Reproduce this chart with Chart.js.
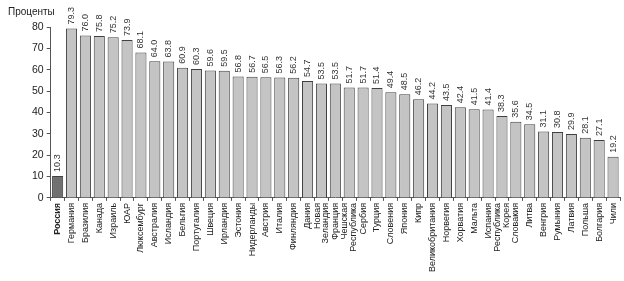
<!DOCTYPE html>
<html>
<head>
<meta charset="utf-8">
<script src="https://cdn.jsdelivr.net/npm/chart.js@4/dist/chart.umd.min.js"></script>
<style>
  html, body { margin: 0; padding: 0; background: #fff; }
  #wrap { width: 624px; height: 281px; }
</style>
</head>
<body>
<div id="wrap"><canvas id="chart"></canvas></div>
<script>
const countries = [
    'Россия', 'Германия', 'Бразилия', 'Канада', 'Израиль', 'ЮАР', 'Люксембург',
    'Австралия', 'Исландия', 'Бельгия', 'Португалия', 'Швеция', 'Ирландия',
    'Эстония', 'Нидерланды', 'Австрия', 'Италия', 'Финляндия', 'Дания',
    ['Новая', 'Зеландия'], 'Франция', ['Чешская', 'Республика'], 'Сербия',
    'Турция', 'Словения', 'Япония', 'Кипр', 'Великобритания', 'Норвегия',
    'Хорватия', 'Мальта', 'Испания', ['Республика', 'Корея'], 'Словакия',
    'Литва', 'Венгрия', 'Румыния', 'Латвия', 'Польша', 'Болгария', 'Чили'
];
const percents = [
    10.3, 79.3, 76.0, 75.8, 75.2, 73.9, 68.1, 64.0, 63.8, 60.9, 60.3, 59.6, 59.5,
    56.8, 56.7, 56.5, 56.3, 56.2, 54.7, 53.5, 53.5, 51.7, 51.7, 51.4, 49.4, 48.5,
    46.2, 44.2, 43.5, 42.4, 41.5, 41.4, 38.3, 35.6, 34.5, 31.1, 30.8, 29.9, 28.1,
    27.1, 19.2
];
const yTicks = [0, 10, 20, 30, 40, 50, 60, 70, 80];
const axisTitle = 'Проценты';

const FONT = 'Arial, "Liberation Sans", sans-serif';
const LABEL_LINE = 8.5;

// Chart.js puts the first line of a rotated multi-line label on the tick;
// shift those labels so both lines sit around the bar centre instead
const centerLabelsPlugin = {
    id: 'centerLabels',
    beforeDraw(chart) {
        const scale = chart.scales.x;
        const items = scale.getLabelItems(chart.chartArea);
        items.forEach(item => {
            if (Array.isArray(item.label) && !item._shifted) {
                item.options.translation[0] -= (item.label.length - 1) * LABEL_LINE / 2;
                item._shifted = true;
            }
        });
    }
};

// Value labels above bars, plus the axis caption at the top left
const labelsPlugin = {
    id: 'valueLabels',
    afterDatasetsDraw(chart) {
        const ctx = chart.ctx;
        const meta = chart.getDatasetMeta(0);
        ctx.save();
        ctx.fillStyle = '#333';
        ctx.font = '9px ' + FONT;
        ctx.textAlign = 'left';
        ctx.textBaseline = 'middle';
        meta.data.forEach((bar, i) => {
            ctx.save();
            ctx.translate(bar.x, bar.y - 4);
            ctx.rotate(-Math.PI / 2);
            ctx.fillText(percents[i].toFixed(1), 0, 0);
            ctx.restore();
        });
        ctx.font = '10px ' + FONT;
        ctx.fillStyle = '#222';
        ctx.fillText(axisTitle, 8, 12);
        ctx.restore();
    }
};

new Chart(document.getElementById('chart'), {
    type: 'bar',
    data: {
        labels: countries,
        datasets: [
            {
                data: percents,
                backgroundColor: percents.map((v, i) => i === 0 ? '#707070' : '#c4c4c4'),
                borderColor: '#404040',
                borderWidth: 1,
                borderSkipped: 'bottom',
                barPercentage: 0.8,
                categoryPercentage: 1,
            },
        ],
    },
    options: {
        responsive: true,
        maintainAspectRatio: false,
        animation: false,
        layout: { padding: { left: 29, right: 4, top: 27, bottom: 7 } },
        plugins: {
            legend: { display: false },
            tooltip: { enabled: false },
        },
        scales: {
            x: {
                offset: true,
                grid: {
                    display: true,
                    drawOnChartArea: false,
                    offset: true,
                    tickLength: 3,
                    color: '#555',
                },
                border: { color: '#555' },
                ticks: {
                    autoSkip: false,
                    maxRotation: 90,
                    minRotation: 90,
                    padding: 2,
                    color: '#222',
                    font: c => ({
                        family: FONT,
                        size: 9,
                        weight: c.index === 0 ? 'bold' : 'normal',
                        lineHeight: LABEL_LINE / 9,
                    }),
                },
            },
            y: {
                min: 0,
                max: 80,
                afterBuildTicks: axis => {
                    axis.ticks = yTicks.map(v => ({ value: v }));
                },
                grid: {
                    display: true,
                    drawOnChartArea: false,
                    tickLength: 4,
                    color: '#555',
                },
                border: { color: '#555' },
                ticks: {
                    padding: 3,
                    color: '#222',
                    font: { family: FONT, size: 10.5 },
                },
            },
        },
    },
    plugins: [centerLabelsPlugin, labelsPlugin],
});
</script>
</body>
</html>
